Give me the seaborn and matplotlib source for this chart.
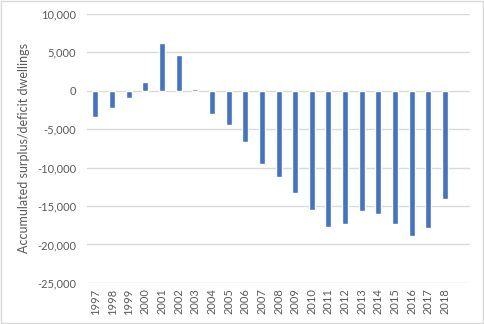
import matplotlib
matplotlib.use("Agg")
import matplotlib.pyplot as plt
import seaborn as sns
import pandas as pd
from matplotlib.patches import Rectangle
from matplotlib.ticker import FuncFormatter

years = [str(y) for y in range(1997, 2019)]
values = [-3400, -2200, -1000, 1200, 6200, 4600, 250, -3000, -4400, -6700,
          -9500, -11200, -13300, -15500, -17700, -17300, -15700, -16100,
          -17400, -18900, -17800, -14100]
y_ticks = [10000, 5000, 0, -5000, -10000, -15000, -20000, -25000]
y_label = "Accumulated surplus/deficit dwellings"

sns.set_theme(style="white")
plt.rcParams['font.family'] = ['Lato', 'DejaVu Sans']

df = pd.DataFrame({"year": years, "value": values})

fig = plt.figure(figsize=(4.84, 3.24), dpi=100)
ax = fig.add_axes([0.18, 0.127, 0.791, 0.83])

sns.barplot(data=df, x="year", y="value", color="#4472C4", saturation=1,
            width=0.36, ax=ax, zorder=3)

ax.set_ylim(-25000, 10000)
ax.set_xlim(-0.5, len(years) + 0.5)
ax.set_yticks(y_ticks)
ax.yaxis.set_major_formatter(FuncFormatter(lambda v, p: f"{int(v):,}"))
ax.grid(axis="y", color="#d9d9d9", linewidth=1, zorder=0)
ax.grid(axis="x", visible=False)
for s in ax.spines.values():
    s.set_visible(False)
ax.tick_params(axis="both", length=0, colors="#595959", labelsize=8)
ax.tick_params(axis="y", pad=8)
ax.tick_params(axis="x", pad=4)
plt.setp(ax.get_xticklabels(), rotation=90)
ax.set_xlabel("")
ax.set_ylabel(y_label, color="#595959", fontsize=9, labelpad=5)

fig.patches.append(Rectangle((0.002, 0.003), 0.995, 0.994, transform=fig.transFigure,
                             fill=False, edgecolor="#d9d9d9", linewidth=1))

fig.savefig("out.png", dpi=100)
